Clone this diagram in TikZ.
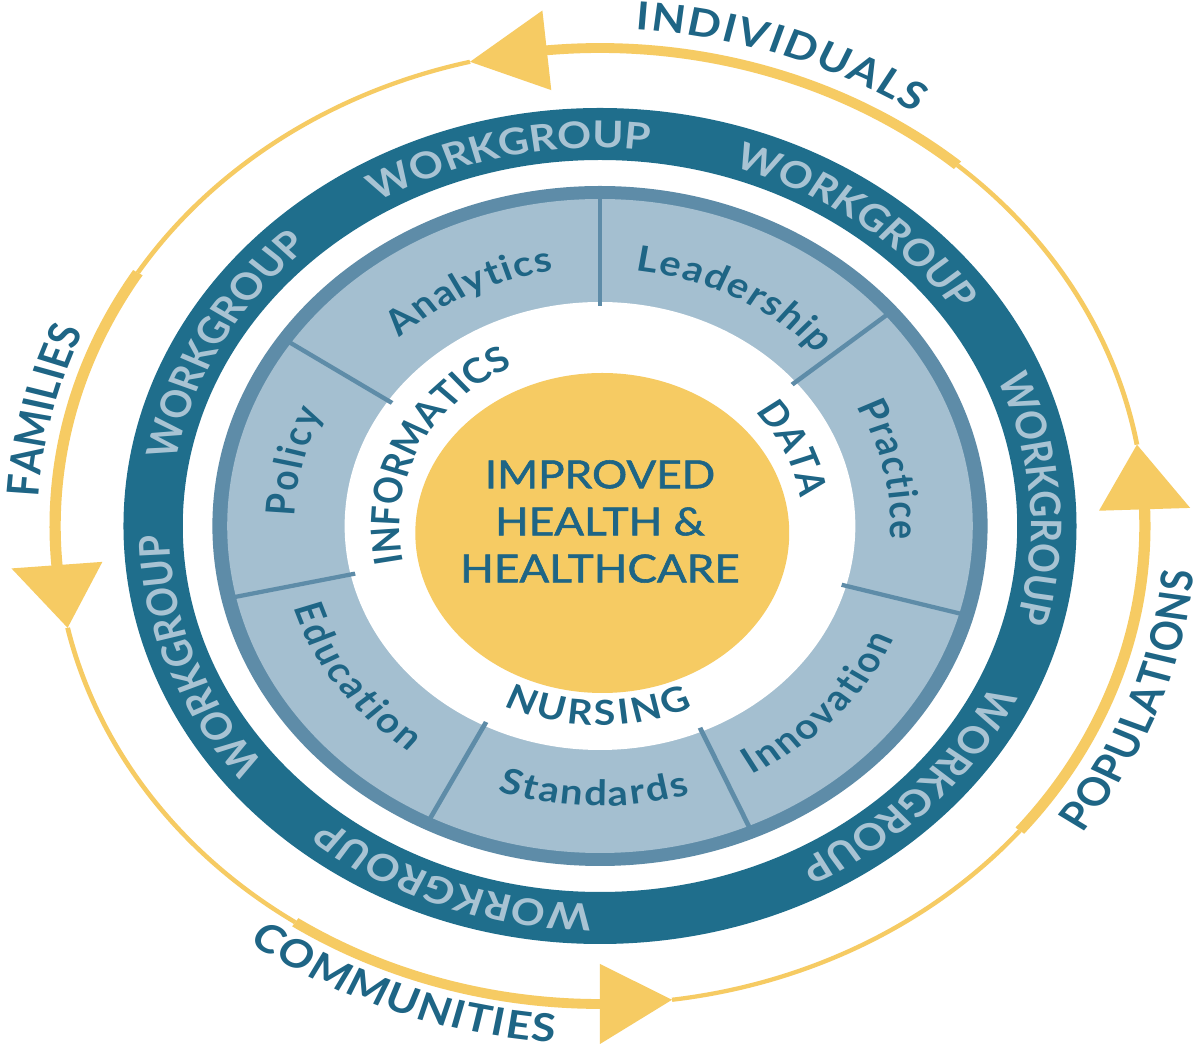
\documentclass[tikz,border=0pt]{standalone}
\usepackage{fontspec}
\setmainfont{Lato}
\newfontfamily\midfont{Lato}[FakeBold=1.4]
\usetikzlibrary{decorations.text}
\definecolor{wgblue}{HTML}{1F6E8C}
\definecolor{wgtext}{HTML}{A8C3D3}
\definecolor{segfill}{HTML}{A4BFD0}
\definecolor{segline}{HTML}{5E8CA8}
\definecolor{hyellow}{HTML}{F6CB63}
\definecolor{lbl}{HTML}{1E6585}
\def\arctext(#1:#2:#3)#4{\path[decorate,decoration={text along path,text={#4},text align=fit to path}] (#1:#3) arc[start angle=#1,end angle=#2,radius=#3];}
\def\arrowhead(#1:#2){\fill[hyellow] (#1:4.38) -- (#1:5.18) -- (#2:4.78) -- cycle;}
\def\wg{\color{wgtext}\bfseries\fontsize{10.5}{12}\selectfont}
\def\lb{\color{lbl}\bfseries\fontsize{10}{12}\selectfont}
\def\lo{\color{lbl}\bfseries\fontsize{11}{13}\selectfont}
\def\lc{\color{lbl}\bfseries\fontsize{9.8}{11}\selectfont}

\begin{document}
\begin{tikzpicture}
	%%%%% START %%%%%
	\path[use as bounding box, fill=white] (-6,-5.25) rectangle (6,5.26);
	
	\begin{scope}[transform canvas={xscale=1.14}]
		
		% outer yellow cycle
		\draw[hyellow, line width=1.2pt] (9.8:4.78) arc[start angle=9.8, end angle=49, radius=4.78];
		\draw[hyellow, line width=2.8pt] (49:4.78) arc[start angle=49, end angle=96.5, radius=4.78];
		\arrowhead(95.6:103.8)
		
		\draw[hyellow, line width=1.2pt] (103.8:4.78) arc[start angle=103.8, end angle=148, radius=4.78];
		\draw[hyellow, line width=2.8pt] (148:4.78) arc[start angle=148, end angle=185.5, radius=4.78];
		\arrowhead(184.7:192.3)
		
		\draw[hyellow, line width=1.2pt] (192.3:4.78) arc[start angle=192.3, end angle=236, radius=4.78];
		\draw[hyellow, line width=2.8pt] (236:4.78) arc[start angle=236, end angle=271, radius=4.78];
		\arrowhead(270:277.6)
		
		\draw[hyellow, line width=1.2pt] (277.6:4.78) arc[start angle=277.6, end angle=320.4, radius=4.78];
		\draw[hyellow, line width=2.8pt] (320.4:4.78) arc[start angle=320.4, end angle=363, radius=4.78];
		\arrowhead(2:9.8)
		
		\arctext(86.4:56.2:4.97){|\lo|INDIVIDUALS}
		\arctext(176.7:157.5:4.93){|\lo|FAMILIES}
		\arctext(-36:-5:5.23){|\lo|POPULATIONS}
		\arctext(233.5:265.6:5.18){|\lo|COMMUNITIES}
		
		% workgroup ring
		\fill[wgblue, even odd rule] (0,0) circle (4.18) (0,0) circle (3.66);
		\arctext(121:84:3.78){|\wg|WORKGROUP}
		\arctext(72:35:3.78){|\wg|WORKGROUP}
		\arctext(23:-14:3.78){|\wg|WORKGROUP}
		\arctext(-25:-62:3.78){|\wg|WORKGROUP}
		\arctext(269:231:3.78){|\wg|WORKGROUP}
		\arctext(219:182:3.78){|\wg|WORKGROUP}
		\arctext(170:133:3.78){|\wg|WORKGROUP}
		
		% segment ring
		\fill[segline] (0,0) circle (3.40);
		\fill[segfill] (0,0) circle (3.27);
		\fill[white] (0,0) circle (2.24);
		\draw[segline, line width=1.2pt] (90:2.2) -- (90:3.3);
		\draw[segline, line width=1.2pt] (40:2.2) -- (40:3.3);
		\draw[segline, line width=1.2pt] (-15.5:2.2) -- (-15.5:3.3);
		\draw[segline, line width=1.2pt] (-66.5:2.2) -- (-66.5:3.3);
		\draw[segline, line width=1.2pt] (243:2.2) -- (243:3.3);
		\draw[segline, line width=1.2pt] (192.5:2.2) -- (192.5:3.3);
		\draw[segline, line width=1.2pt] (146:2.2) -- (146:3.3);
		
		\arctext(133:99:2.58){|\lb|Analytics}
		\arctext(83:42:2.57){|\lb|Leadership}
		\arctext(28:-3:2.55){|\lb|Practice}
		\arctext(-61.8:-23.6:2.82){|\lb|Innovation}
		\arctext(251.2:286.4:2.80){|\lb|Standards}
		\arctext(196.9:233.5:2.81){|\lb|Education}
		\arctext(178:155:2.68){|\lb|Policy}
		
		% white ring
		\arctext(192:115.5:1.76){|\lc|INFORMATICS}
		\arctext(40:9:1.78){|\lc|DATA}
		\arctext(244.8:294.3:1.99){|\lc|NURSING}
		
		% centre
		\fill[hyellow] (0.02,-0.07) ellipse [x radius=1.64, y radius=1.60];
		\node[text=lbl, align=center, font=\midfont\fontsize{11}{13.4}\selectfont] (goal) at (0,0.045) {IMPROVED\\HEALTH \&\\HEALTHCARE};
		
	\end{scope}
	%%%%% END %%%%%
\end{tikzpicture}
\end{document}
